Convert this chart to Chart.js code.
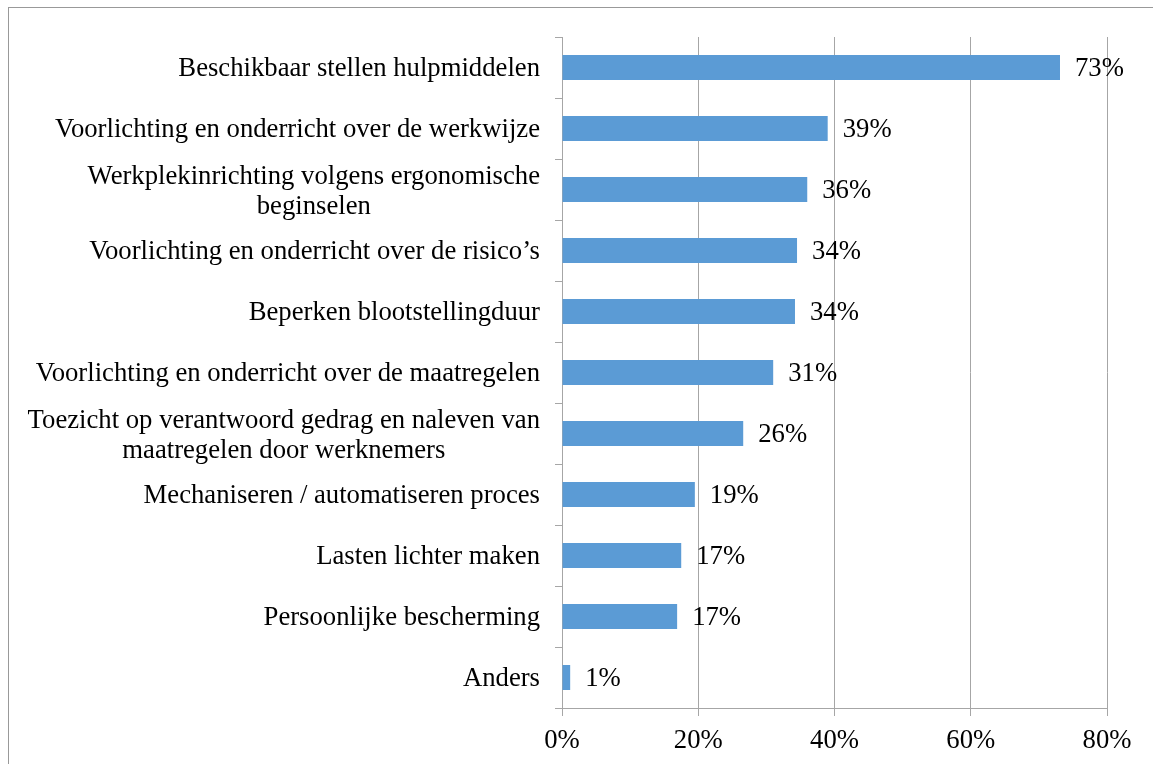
<html lang="nl">
<head>
    <meta charset="UTF-8">
    <title>Maatregelen</title>
    <script src="https://cdn.jsdelivr.net/npm/chart.js"></script>
    <style>
        html, body { margin: 0; padding: 0; background: #fff; }
        #wrap { position: relative; width: 1153px; height: 764px; overflow: hidden; }
        #kader { position: absolute; left: 8px; top: 7px; width: 1200px; height: 800px;
                 border-left: 1px solid #999; border-top: 1px solid #999; }
        canvas { position: absolute; left: 0; top: 0; }
    </style>
</head>
<body>
<div id="wrap">
    <div id="kader"></div>
    <canvas id="grafiek" width="1153" height="764"></canvas>
</div>

<script>
// categorieen (van boven naar beneden)
var categorieen = [
    ["Beschikbaar stellen hulpmiddelen"],
    ["Voorlichting en onderricht over de werkwijze"],
    ["Werkplekinrichting volgens ergonomische", "beginselen"],
    ["Voorlichting en onderricht over de risico\u2019s"],
    ["Beperken blootstellingduur"],
    ["Voorlichting en onderricht over de maatregelen"],
    ["Toezicht op verantwoord gedrag en naleven van", "maatregelen door werknemers"],
    ["Mechaniseren / automatiseren proces"],
    ["Lasten lichter maken"],
    ["Persoonlijke bescherming"],
    ["Anders"]
];
var waarden = [73.1, 39.0, 36.0, 34.5, 34.2, 31.0, 26.6, 19.5, 17.5, 16.9, 1.2];
// labels naast de staven
var waardeLabels = ["73%", "39%", "36%", "34%", "34%", "31%", "26%", "19%", "17%", "17%", "1%"];
// x-as
var xTicks = [0, 20, 40, 60, 80];

var lettertype = "'Liberation Serif', 'Times New Roman', serif";
var grootte = 26.7;
var grijs = '#a6a6a6';

// labels van de categorie-as: meerregelige labels gecentreerd, blok rechts uitgelijnd
var categorieLabels = {
    id: 'categorieLabels',
    afterDraw: function (chart) {
        var ctx = chart.ctx;
        var y = chart.scales.y;
        var rechts = 540;
        var regel = 30;
        ctx.save();
        ctx.font = grootte + 'px ' + lettertype;
        ctx.fillStyle = '#000';
        ctx.textBaseline = 'middle';
        categorieen.forEach(function (regels, i) {
            var py = y.getPixelForValue(i) + 1;
            var breedte = 0;
            regels.forEach(function (r) { breedte = Math.max(breedte, ctx.measureText(r).width); });
            var midden = rechts - breedte / 2;
            var start = py - (regels.length - 1) * regel / 2 + (regels.length > 1 ? 1 : 0);
            ctx.textAlign = 'center';
            regels.forEach(function (r, j) {
                ctx.fillText(r, midden, start + j * regel);
            });
        });
        ctx.restore();
    }
};

// waardes naast de staven
var staafLabels = {
    id: 'staafLabels',
    afterDatasetsDraw: function (chart) {
        var ctx = chart.ctx;
        var meta = chart.getDatasetMeta(0);
        ctx.save();
        ctx.font = grootte + 'px ' + lettertype;
        ctx.fillStyle = '#000';
        ctx.textAlign = 'left';
        ctx.textBaseline = 'middle';
        meta.data.forEach(function (bar, i) {
            ctx.fillText(waardeLabels[i], bar.x + 15, bar.y + 1);
        });
        ctx.restore();
    }
};

var ctx = document.getElementById('grafiek').getContext('2d');
new Chart(ctx, {
    type: 'bar',
    data: {
        labels: categorieen.map(function (c) { return c.join(' '); }),
        datasets: [{
            data: waarden,
            backgroundColor: '#5b9bd5',
            borderWidth: 0,
            barPercentage: 0.41,
            categoryPercentage: 1
        }]
    },
    options: {
        indexAxis: 'y',
        responsive: false,
        animation: false,
        layout: { padding: { top: 37, right: 46, left: 0, bottom: 0 } },
        plugins: {
            legend: { display: false },
            tooltip: { enabled: false }
        },
        scales: {
            x: {
                min: 0,
                max: 80,
                afterBuildTicks: function (scale) {
                    scale.ticks = xTicks.map(function (v) { return { value: v }; });
                },
                afterFit: function (scale) { scale.height = 56; },
                grid: { color: grijs, lineWidth: 1, tickLength: 8, drawTicks: true },
                border: { color: grijs, width: 1 },
                ticks: {
                    color: '#000',
                    padding: 9,
                    font: { family: lettertype, size: grootte },
                    callback: function (v) { return v + '%'; }
                }
            },
            y: {
                afterFit: function (scale) { scale.width = 562; },
                grid: { drawOnChartArea: false, drawTicks: true, tickLength: 7, color: grijs, offset: true },
                border: { color: grijs, width: 1 },
                ticks: { color: 'rgba(0,0,0,0)', font: { family: lettertype, size: 12 } }
            }
        }
    },
    plugins: [categorieLabels, staafLabels]
});
</script>
</body>
</html>
